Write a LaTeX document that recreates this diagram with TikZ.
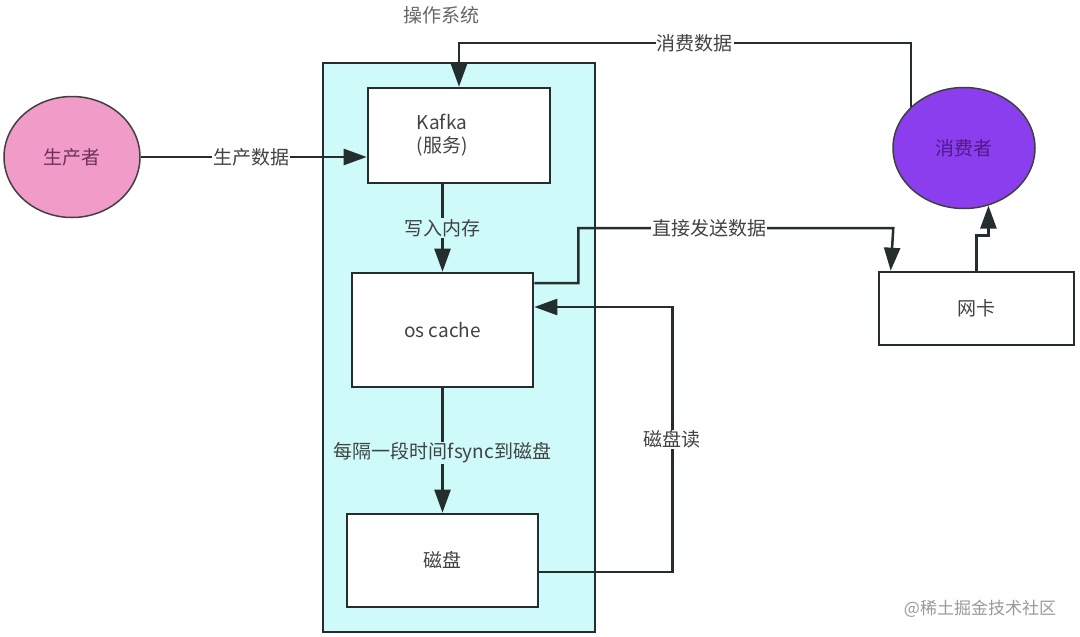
\documentclass[tikz,border=0pt]{standalone}
\usepackage{fontspec}
\setmainfont{Noto Sans CJK SC}
\usepackage{xcolor}
\usepackage{tikz}
\usetikzlibrary{
  positioning,
  arrows.meta,
  shapes.geometric
}

\definecolor{oscyan}{RGB}{206,250,250}
\definecolor{prodpink}{RGB}{241,155,201}
\definecolor{conspurple}{RGB}{139,62,238}
\definecolor{linedark}{RGB}{36,46,46}
\definecolor{textgray}{RGB}{66,66,66}

\begin{document}
\begin{tikzpicture}[x=1pt,y=-1pt,
  txt/.style={font=\fontsize{19}{23}\selectfont},
  box/.style={txt,draw=linedark,line width=2.6pt,fill=white,text=textgray,align=center,inner sep=0pt},
  actor/.style={txt,ellipse,draw=black!75,line width=1.5pt,inner sep=0pt},
  conn/.style={draw=linedark,line width=2.5pt,-{Triangle[length=23pt,width=16pt]}},
  lbl/.style={txt,fill=white,text=textgray,inner sep=1pt}
]
  \useasboundingbox (0,0) rectangle (1080,637);

  % 操作系统の枠
  \node[draw=linedark,line width=2.8pt,fill=oscyan,minimum width=272pt,minimum height=569pt] (os) at (459,347.5) {};
  \node[txt,text=black!60] (oslabel) at (441,15) {操作系统};

  % 箱
  \node[box,minimum width=182pt,minimum height=95pt,label={[txt,text=textgray,align=center,xshift=-17pt]center:Kafka\\(服务)}] (kafka) at (459,135.5) {};
  \node[box,minimum width=181pt,minimum height=114pt] (cache) at (442.5,330) {os cache};
  \node[box,minimum width=191pt,minimum height=93pt] (disk) at (442.5,560.5) {磁盘};
  \node[box,minimum width=195pt,minimum height=73pt] (nic) at (976.5,308.5) {网卡};

  % 生产者と消费者
  \node[actor,fill=prodpink,text={rgb,255:red,110;green,50;blue,95},minimum width=136pt,minimum height=121pt] (producer) at (72,157) {生产者};
  \node[actor,fill=conspurple,text={rgb,255:red,80;green,25;blue,140},minimum width=142pt,minimum height=121pt] (consumer) at (964,148) {消费者};

  % 矢印
  \coordinate (topline) at (0,43);
  \draw[conn] (producer.east) -- node[lbl,pos=0.49]{生产数据} (producer.east -| kafka.west);
  \draw[conn] (consumer.142) |- node[lbl,pos=0.739]{消费数据} (kafka.north |- topline) -- (kafka.north);
  \draw[conn] (cache.north |- kafka.south) -- node[lbl,fill=oscyan]{写入内存} (cache.north);
  \draw[conn] (cache.south) -- node[lbl,fill=oscyan,pos=0.52]{每隔一段时间fsync到磁盘} (disk.north);
  \draw[conn] ([yshift=-11.5pt]disk.east) -- ++(133,0) -- node[lbl]{磁盘读} ++(0,-265) -- ([yshift=23pt]cache.east);
  \draw[conn] ([yshift=47pt]cache.east) -- ++(44,0) -- ++(0,-55) -- node[lbl,pos=0.416]{直接发送数据} ++(315,0) -- ([xshift=13pt]nic.north west);
  \draw[conn] (nic.north) -- ++(0,-35) -| (consumer.293);

  % 水印
  \node[font=\fontsize{17}{20}\selectfont,text=black!40] (mark) at (980,609) {@稀土掘金技术社区};
\end{tikzpicture}
\end{document}
